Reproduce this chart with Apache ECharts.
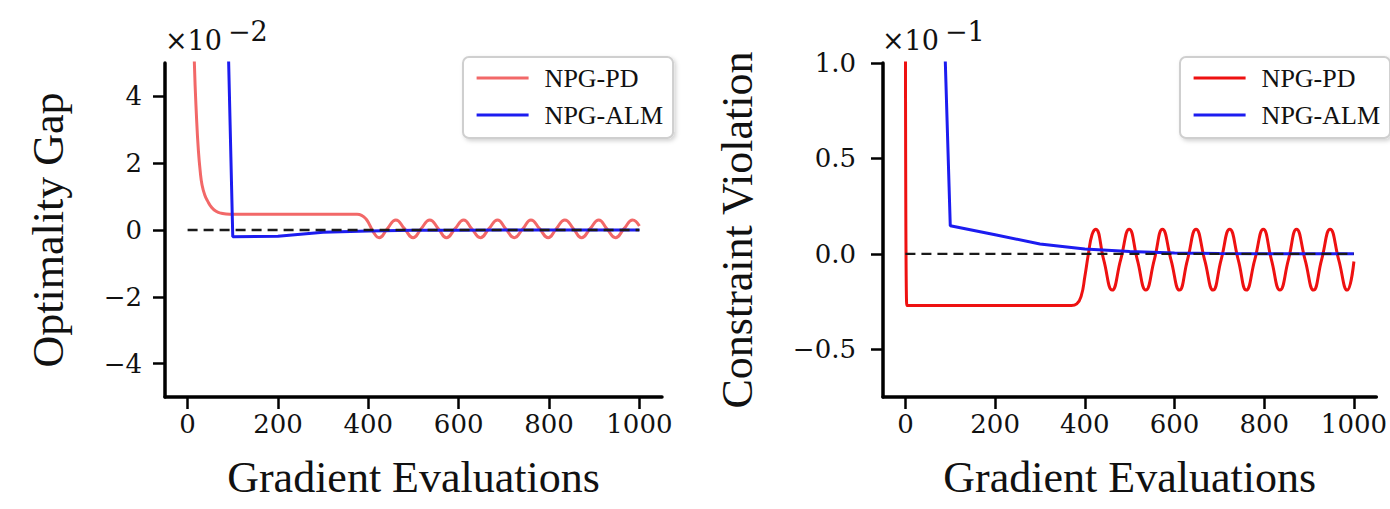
<!DOCTYPE html>
<html>
<head>
<meta charset="utf-8">
<style>
  html, body { margin: 0; padding: 0; background: #ffffff; }
  #chart { width: 1390px; height: 509px; }
</style>
<script src="https://cdn.jsdelivr.net/npm/echarts@6/dist/echarts.min.js"></script>
</head>
<body>
<div id="chart"></div>
<script>
// ---------------- data ----------------
const xTicks = [0, 200, 400, 600, 800, 1000];
const gapTicks = [-4, -2, 0, 2, 4];          // ×10^-2
const violTicks = [-0.5, 0, 0.5, 1.0];      // ×10^-1
const seriesNames = ['NPG-PD', 'NPG-ALM'];

// Optimality gap (×10^-2) — NPG-PD
const pdGapX = [10, 15, 20, 24, 28, 32, 38, 45, 53, 63, 75, 93, 200, 300, 375, 385, 395, 403, 412,
  424, 442, 461, 480, 499, 517, 536, 555, 573, 592, 611, 629, 648, 667, 686, 704,
  723, 742, 760, 779, 798, 816, 835, 854, 872, 891, 910, 928, 947, 966, 985, 1000];
const pdGapY = [8.0, 5.0, 3.3, 2.36, 1.75, 1.35, 1.05, 0.85, 0.68, 0.56, 0.5, 0.47, 0.47, 0.47, 0.47, 0.44, 0.33, 0.15, -0.08,
  -0.23, 0.04, 0.3, 0.04, -0.23, 0.04, 0.3, 0.04, -0.23, 0.04, 0.3, 0.04, -0.23, 0.04, 0.3, 0.04,
  -0.23, 0.04, 0.3, 0.04, -0.23, 0.04, 0.3, 0.04, -0.23, 0.04, 0.3, 0.04, -0.23, 0.04, 0.3, 0.12];

// Optimality gap (×10^-2) — NPG-ALM
const almGapX = [0, 100, 200, 300, 400, 500, 600, 700, 800, 900, 1000];
const almGapY = [57, -0.2, -0.185, -0.07, -0.03, -0.01, -0.004, 0, 0, 0, 0];

// Constraint violation (×10^-1) — NPG-PD
const pdViolX = [0, 3, 10, 100, 200, 300, 370, 382, 392, 400, 408, 416,
  424, 442, 461, 480, 499, 517, 536, 555, 573, 592, 611, 629, 648, 667, 686, 704,
  723, 742, 760, 779, 798, 816, 835, 854, 872, 891, 910, 928, 947, 966, 985, 1000];
const pdViolY = [1.6, -0.27, -0.27, -0.27, -0.27, -0.27, -0.27, -0.262, -0.22, -0.12, 0.0, 0.1,
  0.129, -0.03, -0.19, -0.03, 0.129, -0.03, -0.19, -0.03, 0.129, -0.03, -0.19, -0.03, 0.129, -0.03, -0.19, -0.03,
  0.129, -0.03, -0.19, -0.03, 0.129, -0.03, -0.19, -0.03, 0.129, -0.03, -0.19, -0.03, 0.129, -0.03, -0.19, -0.04];

// Constraint violation (×10^-1) — NPG-ALM
const almViolX = [0, 100, 200, 300, 400, 500, 600, 700, 800, 900, 1000];
const almViolY = [7.9, 0.147, 0.1, 0.052, 0.025, 0.012, 0.005, 0.002, 0.001, 0, 0];

// reference (zero) line
const refX = [0, 1000];
const refY = [0, 0];

// ---------------- styling ----------------
const SERIF = 'Liberation Serif, Times New Roman, serif';
const MATH = 'DejaVu Serif, serif';
const INK = '#111111';
const pair = (xs, ys) => xs.map((x, i) => [x, ys[i]]);
const fmtInt = (v) => (v < 0 ? '\u2212' + String(Math.abs(v)) : String(v));
const fmtOne = (v) => (v < 0 ? '\u2212' + Math.abs(v).toFixed(1) : v.toFixed(1));

function xAxisFor(gridIndex) {
  return {
    type: 'value', gridIndex: gridIndex, min: -50, max: 1050,
    name: 'Gradient Evaluations', nameLocation: 'middle', nameGap: 58,
    nameTextStyle: { fontFamily: SERIF, fontSize: 44, color: INK },
    axisLine: { show: true, onZero: false, lineStyle: { color: '#000', width: 3.5 } },
    axisTick: { show: true, customValues: xTicks, length: 12, lineStyle: { color: '#000', width: 2.5 } },
    axisLabel: { customValues: xTicks, formatter: fmtInt, fontFamily: MATH, fontSize: 26, color: INK, margin: 14 },
    splitLine: { show: false }
  };
}
function yAxisFor(gridIndex, min, max, ticks, fmt, title, gap, margin) {
  return {
    type: 'value', gridIndex: gridIndex, min: min, max: max,
    name: title, nameLocation: 'middle', nameGap: gap, nameRotate: 90,
    nameTextStyle: { fontFamily: SERIF, fontSize: 44, color: INK },
    axisLine: { show: true, onZero: false, lineStyle: { color: '#000', width: 3.5 } },
    axisTick: { show: true, customValues: ticks, length: 12, lineStyle: { color: '#000', width: 2.5 } },
    axisLabel: { customValues: ticks, formatter: fmt, fontFamily: MATH, fontSize: 26, color: INK, margin: margin },
    splitLine: { show: false }
  };
}
function legendFor(left, pdColor) {
  return {
    left: left, top: 57, orient: 'vertical',
    data: [
      { name: seriesNames[0], itemStyle: { color: pdColor, opacity: 0 }, lineStyle: { color: pdColor, width: 3.2 } },
      { name: seriesNames[1], itemStyle: { color: '#1c1cf0', opacity: 0 }, lineStyle: { color: '#1c1cf0', width: 3.2 } }
    ],
    itemWidth: 52, itemHeight: 26, itemGap: 11,
    padding: [8, 10, 10, 12],
    backgroundColor: '#ffffff', borderColor: '#cfcfcf', borderWidth: 2, borderRadius: 6,
    shadowBlur: 4, shadowColor: 'rgba(0,0,0,0.18)', shadowOffsetX: 2, shadowOffsetY: 2,
    selectedMode: false,
    textStyle: { fontFamily: SERIF, fontSize: 26, color: INK, padding: [0, 0, 0, 11] }
  };
}
function lineSeries(name, xi, data, color, smooth) {
  return {
    type: 'line', name: name, xAxisIndex: xi, yAxisIndex: xi, data: data,
    symbol: 'none', showSymbol: false, smooth: smooth, clip: true,
    lineStyle: { color: color, width: 3 }, itemStyle: { color: color },
    emphasis: { disabled: true }
  };
}
function refSeries(xi) {
  return {
    type: 'line', name: 'ref', xAxisIndex: xi, yAxisIndex: xi, data: pair(refX, refY),
    symbol: 'none', showSymbol: false, silent: true, z: 5,
    lineStyle: { color: '#1a1a1a', width: 2.4, type: [10, 6] }
  };
}
function offsetText(x, base, exp) {
  return [
    { type: 'text', x: x, y: 0, style: { text: base, x: 0, y: 54, fontFamily: MATH, fontSize: 27, fill: INK, verticalAlign: 'bottom' } },
    { type: 'text', x: x + 63, y: 0, style: { text: exp, x: 0, y: 45, fontFamily: MATH, fontSize: 27, fill: INK, verticalAlign: 'bottom' } }
  ];
}

const chart = echarts.init(document.getElementById('chart'), null, { renderer: 'svg' });
chart.setOption({
  animation: false,
  backgroundColor: '#ffffff',
  grid: [
    { left: 165, top: 63, width: 497, height: 334 },
    { left: 883, top: 63, width: 496, height: 334 }
  ],
  xAxis: [xAxisFor(0), xAxisFor(1)],
  yAxis: [
    yAxisFor(0, -5, 5, gapTicks, fmtInt, 'Optimality Gap', 95, 23),
    yAxisFor(1, -0.75, 1.0, violTicks, fmtOne, 'Constraint Violation', 124, 27)
  ],
  legend: [legendFor(463, '#f26868'), legendFor(1180, '#ee1111')],
  graphic: offsetText(165, '\u00d710', '\u22122').concat(offsetText(882, '\u00d710', '\u22121')),
  series: [
    lineSeries(seriesNames[0], 0, pair(pdGapX, pdGapY), '#f26868', 0.5),
    lineSeries(seriesNames[1], 0, pair(almGapX, almGapY), '#1c1cf0', false),
    refSeries(0),
    lineSeries(seriesNames[0], 1, pair(pdViolX, pdViolY), '#ee1111', 0.5),
    lineSeries(seriesNames[1], 1, pair(almViolX, almViolY), '#1c1cf0', false),
    refSeries(1)
  ]
});
</script>
</body>
</html>
